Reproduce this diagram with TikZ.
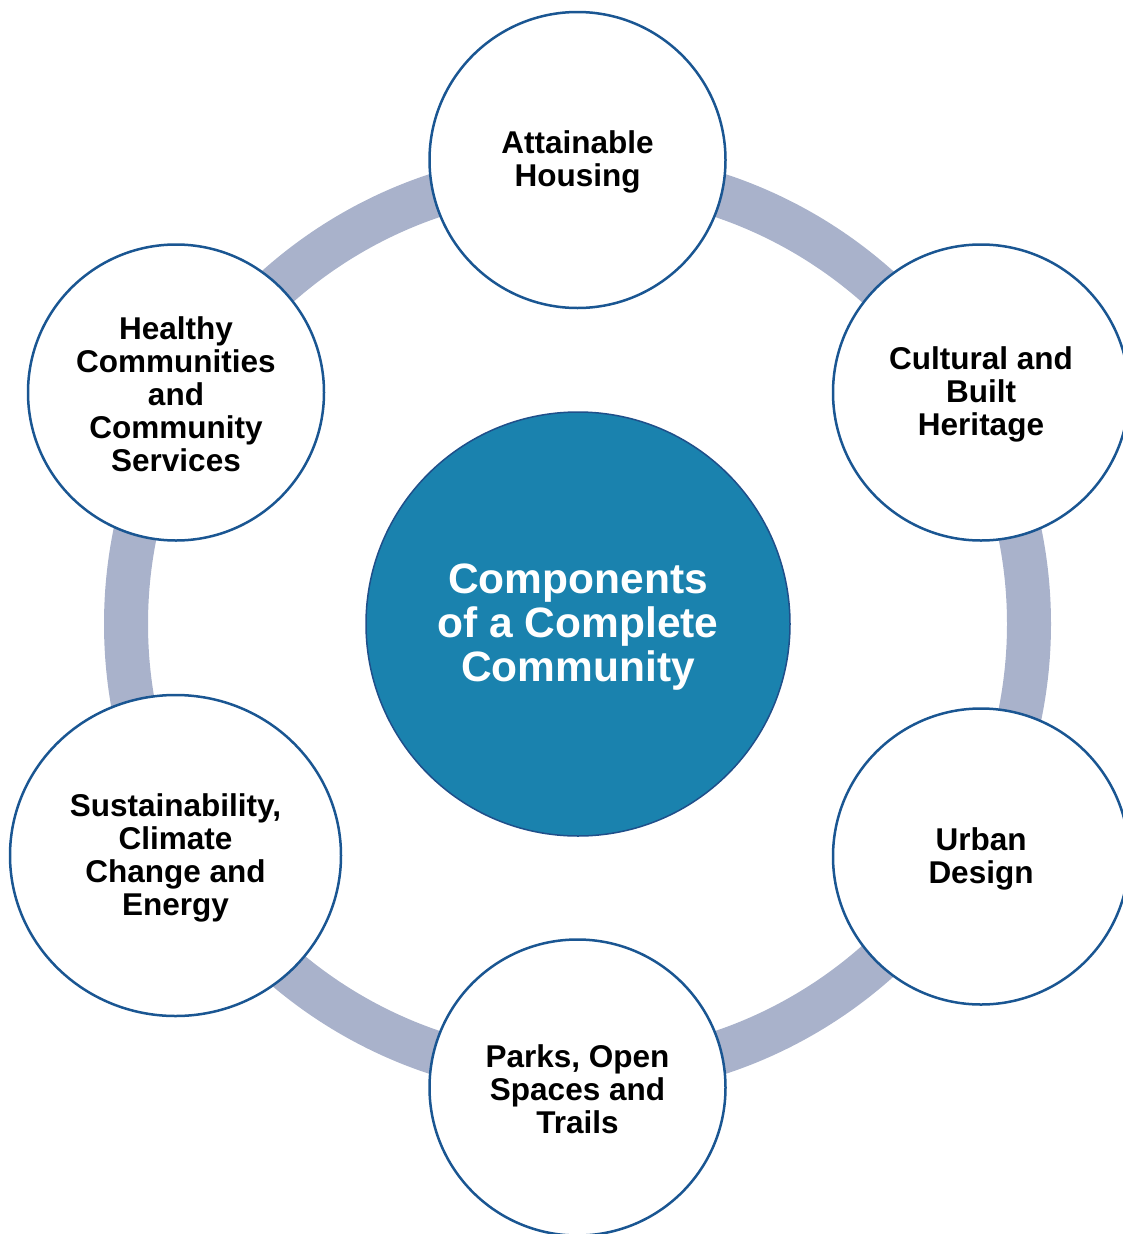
\documentclass[tikz,border=0pt]{standalone}
\usepackage{fontspec}
\setmainfont{Liberation Sans}
\usetikzlibrary{shapes.geometric}
\definecolor{ringgray}{HTML}{A9B2CB}
\definecolor{rimblue}{HTML}{1A5692}
\definecolor{corefill}{HTML}{1A82AE}
\definecolor{coreedge}{HTML}{1F4F8A}
\tikzset{
  topic/.style={circle, draw=rimblue, line width=2.5pt, fill=white,
    minimum size=296pt, inner sep=0pt},
  topictext/.style={align=center, text=black, inner sep=0pt, yshift=-2pt,
    font=\fontsize{31.5}{33}\selectfont\bfseries},
  core/.style={circle, draw=coreedge, line width=1.5pt, fill=corefill,
    minimum size=424pt, inner sep=0pt},
  coretext/.style={align=center, text=white, inner sep=0pt, yshift=-3.5pt,
    font=\fontsize{42.5}{44}\selectfont\bfseries},
}
\begin{document}
\begin{tikzpicture}[x=1pt,y=-1pt]
  \useasboundingbox (0,0) rectangle (1123,1234);
  \clip (0,0) rectangle (1123,1234);
  % connecting ring
  \draw[ringgray, line width=44pt] (577.5,624) circle[radius=451.5];
  % surrounding components
  \node[topic] (housing) at (577.5,160) {};
  \node[topictext] (housingtext) at (housing.center) {Attainable\\Housing};
  \node[topic] (heritage) at (981,392.5) {};
  \node[topictext] (heritagetext) at (heritage.center) {Cultural and\\Built\\Heritage};
  \node[topic] (urban) at (981,856.5) {};
  \node[topictext] (urbantext) at (urban.center) {Urban\\Design};
  \node[topic] (parks) at (577.5,1087.5) {};
  \node[topictext] (parkstext) at (parks.center) {Parks, Open\\Spaces and\\Trails};
  \node[topic, ellipse, minimum width=331pt, minimum height=321pt] (energy) at (175.5,855.5) {};
  \node[topictext] (energytext) at (energy.center) {Sustainability,\\Climate\\Change and\\Energy};
  \node[topic] (health) at (176,392.5) {};
  \node[topictext] (healthtext) at (health.center) {Healthy\\Communities\\and\\Community\\Services};
  % centre
  \node[core] (centre) at (578,624) {};
  \node[coretext] (centretext) at (centre.center) {Components\\of a Complete\\Community};
\end{tikzpicture}
\end{document}
